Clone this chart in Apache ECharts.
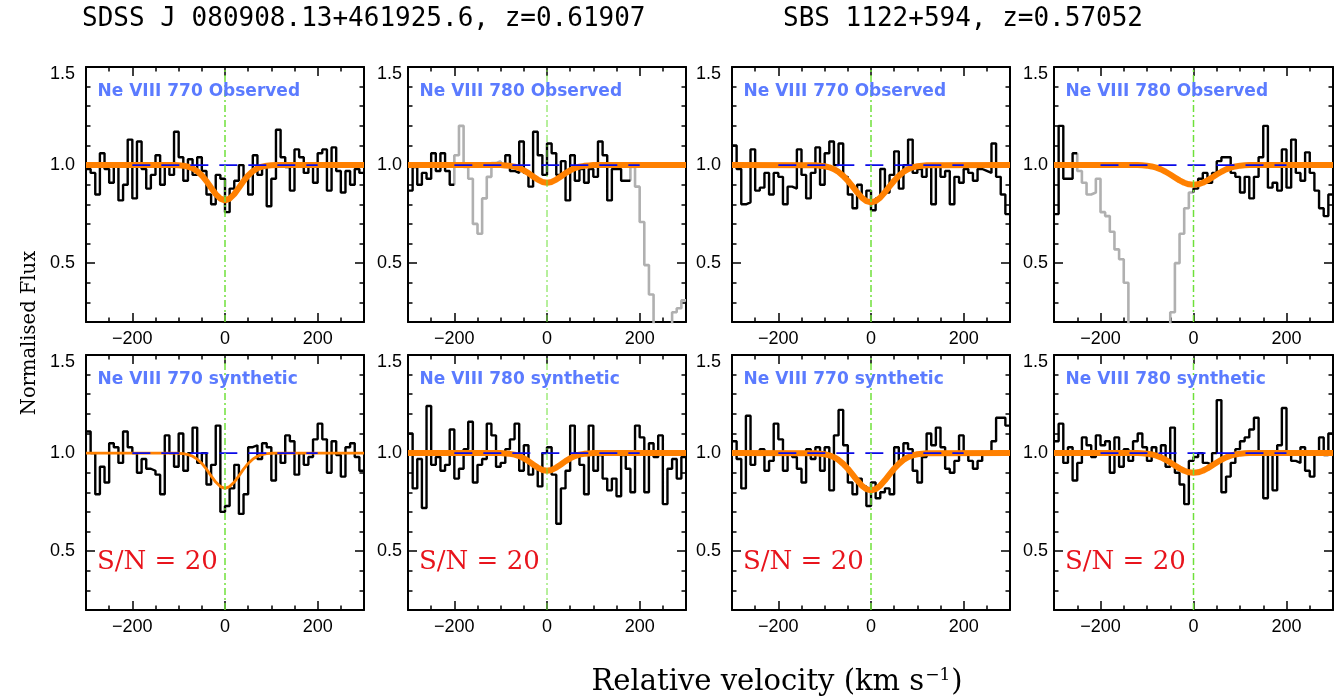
<!DOCTYPE html>
<html><head><meta charset="utf-8">
<script src="https://cdn.jsdelivr.net/npm/echarts@6/dist/echarts.min.js"></script>
<style>html,body{margin:0;padding:0;background:#fff}#c{width:1344px;height:697px}</style>
</head><body><div id="c"></div>
<script>
// ---------------- DATA ----------------
// velocity bins: left edge of first bin and bin width (km/s), 60 bins from -300 to 300
const binStart = -300, binWidth = 10;

// J0809 Ne VIII 770 observed
const fluxJ770obs = [0.98,0.96,0.85,1.06,0.98,0.91,1.00,0.82,0.90,1.13,
  0.83,1.12,0.98,0.88,0.95,1.05,0.90,1.00,0.95,1.17,
  1.04,0.92,1.03,0.95,1.04,0.97,0.85,0.80,0.95,0.93,
  0.76,0.88,0.92,1.00,0.93,0.85,1.05,0.95,0.99,0.79,
  0.93,1.18,1.04,0.99,0.87,1.08,1.04,0.96,1.00,0.91,
  1.06,1.08,0.87,1.09,0.97,0.86,0.97,0.90,0.98,0.96];
// J0809 Ne VIII 780 observed
const fluxJ780obs = [0.87,0.99,0.90,0.96,0.93,1.06,0.97,1.06,0.97,0.90,
  1.05,1.20,0.99,0.93,0.70,0.65,0.83,0.94,1.01,1.02,
  1.00,1.05,0.97,0.96,1.12,0.96,0.89,1.17,1.05,0.95,
  1.11,1.06,0.95,1.02,0.82,1.05,0.92,0.98,0.91,0.98,
  0.94,1.12,1.05,0.82,0.98,0.98,0.92,0.92,0.99,0.89,
  0.71,0.49,0.34,0.00,0.00,0.00,0.00,0.25,0.27,0.31];
// SBS1122 Ne VIII 770 observed
const fluxS770obs = [1.10,0.98,0.80,0.81,1.08,0.87,0.885,0.96,0.85,0.96,
  0.94,0.80,0.89,0.88,1.08,0.95,0.83,0.96,1.09,0.90,
  1.06,1.12,1.00,1.11,0.94,0.85,0.78,0.90,0.83,0.87,
  0.77,0.83,0.98,0.86,0.95,1.07,0.88,1.00,1.13,0.96,
  0.98,0.94,1.00,0.80,1.00,0.94,0.97,0.80,0.94,0.91,
  0.98,0.96,0.92,0.98,0.97,0.96,1.11,0.94,0.85,0.75];
// SBS1122 Ne VIII 780 observed
const fluxS780obs = [0.75,1.20,0.93,0.93,1.06,0.97,0.91,0.85,0.86,0.93,
  0.76,0.74,0.66,0.57,0.52,0.40,0.00,0.00,0.00,0.00,
  0.00,0.00,0.00,0.00,0.00,0.25,0.50,0.65,0.78,0.86,
  0.88,0.93,0.96,0.91,0.96,1.02,1.04,1.04,0.96,0.94,
  0.86,0.94,0.83,0.94,1.04,1.20,0.885,0.91,0.87,1.08,
  0.885,1.13,0.96,0.92,1.065,0.96,0.87,0.78,0.74,0.85];
// J0809 Ne VIII 770 synthetic
const fluxJ770syn = [1.11,1.00,0.79,0.93,0.85,1.05,1.03,0.95,1.11,1.03,
  1.00,0.90,0.97,0.92,0.91,0.89,0.79,1.09,1.00,0.93,
  1.10,0.91,1.00,1.13,0.95,1.00,0.84,0.94,1.14,0.70,
  0.73,0.82,0.94,0.69,0.79,1.03,1.04,0.97,1.05,1.03,
  0.86,1.00,0.95,1.09,1.06,0.89,1.00,0.94,0.98,1.07,
  1.15,1.07,0.90,1.06,0.99,0.88,1.03,1.05,0.98,0.91];
// J0809 Ne VIII 780 synthetic
const fluxJ780syn = [1.10,0.82,0.97,0.72,1.24,0.94,0.98,0.91,0.94,1.12,
  0.87,0.92,1.02,1.16,0.85,0.94,0.97,1.15,1.09,0.93,
  0.95,1.02,1.07,1.15,0.91,1.04,0.89,0.93,0.83,1.00,
  1.03,0.89,0.64,0.82,0.91,1.14,1.00,0.94,0.79,1.14,
  0.91,0.99,0.87,0.81,0.87,0.78,0.99,0.92,0.80,1.14,
  1.08,0.80,1.05,0.98,1.09,0.74,0.92,0.97,0.87,0.98];
// SBS1122 Ne VIII 770 synthetic
const fluxS770syn = [1.06,0.97,0.82,1.19,0.94,1.00,1.02,0.91,0.96,1.15,
  1.07,0.91,1.00,0.98,0.92,0.85,1.02,0.97,1.03,0.91,
  1.03,0.81,1.09,1.22,1.04,0.85,0.79,0.87,0.83,0.73,
  0.85,0.77,0.80,0.82,0.79,1.03,0.96,1.05,1.02,0.91,
  0.85,0.98,1.10,1.04,1.13,1.03,0.92,0.90,0.96,1.09,
  1.00,0.96,0.92,0.96,1.00,1.01,1.06,1.18,1.18,1.14];
// SBS1122 Ne VIII 780 synthetic
const fluxS780syn = [1.06,1.15,0.95,1.03,0.86,0.95,1.08,1.04,0.98,1.09,
  1.04,1.06,0.90,1.08,0.93,1.02,0.96,1.06,1.10,1.03,
  0.96,1.03,0.99,1.04,0.93,1.13,0.90,0.84,0.74,0.96,
  0.98,1.00,0.95,0.94,1.00,1.27,0.80,0.88,0.95,1.02,
  1.06,1.08,1.12,1.18,1.00,0.77,1.00,0.81,1.04,1.23,
  1.00,0.96,0.95,1.03,0.91,0.88,1.00,1.08,0.99,1.10];

// blended (grey) velocity ranges
const greyJ780 = [[-200,-90],[180,300]];
const greyS780 = [[-250,0]];

// fitted profiles (orange)
const modelV = [-300,-120,-110,-100,-90,-80,-70,-60,-50,-40,-30,-20,-10,0,10,20,30,40,50,60,70,80,90,100,110,120,300];
const modelJ770 = [1,1,1,0.999,0.997,0.992,0.984,0.969,0.947,0.918,0.884,0.852,0.829,0.82,0.829,0.852,0.884,0.918,0.947,0.969,0.984,0.992,0.997,0.999,1,1,1];
const modelJ780 = [1,1,1,1,0.998,0.996,0.992,0.985,0.973,0.959,0.942,0.926,0.914,0.91,0.914,0.926,0.942,0.959,0.973,0.985,0.992,0.996,0.998,1,1,1,1];
const modelS770 = [1,0.9987,0.997,0.994,0.9885,0.979,0.965,0.945,0.920,0.891,0.861,0.8345,0.8165,0.81,0.8165,0.8345,0.861,0.891,0.920,0.945,0.965,0.979,0.9885,0.994,0.997,0.9987,1];
const modelS780 = [1,1,0.999,0.997,0.993,0.987,0.978,0.966,0.952,0.937,0.922,0.91,0.902,0.90,0.902,0.91,0.922,0.937,0.952,0.966,0.978,0.987,0.993,0.997,0.999,1,1];

// continuum marker and line-centre marker
const contV = [-200, 200], contF = [1.0, 1.0];
const zeroV = [0, 0], zeroF = [0.2, 1.5];

// tick values
const xMajor = [-200, 0, 200];
const yMajor = [0.5, 1.0, 1.5];

const panelLabels = ['Ne VIII 770 Observed','Ne VIII 780 Observed','Ne VIII 770 Observed','Ne VIII 780 Observed',
  'Ne VIII 770 synthetic','Ne VIII 780 synthetic','Ne VIII 770 synthetic','Ne VIII 780 synthetic'];
const snText = 'S/N = 20';
const titleLeft = 'SDSS J 080908.13+461925.6, z=0.61907';
const titleRight = 'SBS 1122+594, z=0.57052';
const yTitle = 'Normalised Flux';

// ---------------- LAYOUT / STYLE ----------------
const colLeft = [86, 408, 732, 1054], colW = [278, 278, 278, 279];
const rowTop = [67, 355], rowH = 255;
const yLabMargin = [11, 6, 11, 6];
const SANS = '"Liberation Sans", Arial, sans-serif';
const SERIF = '"DejaVu Serif", serif';
const TICKFS = 18;

const panels = [
  {flux: fluxJ770obs, model: modelJ770, grey: [], mw: 6, zw: 1.5, sn: false},
  {flux: fluxJ780obs, model: modelJ780, grey: greyJ780, mw: 6, zw: 1, sn: false},
  {flux: fluxS770obs, model: modelS770, grey: [], mw: 6, zw: 1.5, sn: false},
  {flux: fluxS780obs, model: modelS780, grey: greyS780, mw: 6, zw: 1.5, sn: false},
  {flux: fluxJ770syn, model: modelJ770, grey: [], mw: 2.8, zw: 1.5, sn: true},
  {flux: fluxJ780syn, model: modelJ780, grey: [], mw: 6, zw: 1, sn: true},
  {flux: fluxS770syn, model: modelS770, grey: [], mw: 6, zw: 1.5, sn: true},
  {flux: fluxS780syn, model: modelS780, grey: [], mw: 6, zw: 1.5, sn: true}
];

function inGrey(ranges, lo, hi) {
  return ranges.some(r => lo >= r[0] - 1e-6 && hi <= r[1] + 1e-6);
}
// build step-line data (step:'end', points at bin left edges) split into black / grey
function buildSteps(flux, ranges) {
  const n = flux.length;
  const isGrey = flux.map((_, k) => inGrey(ranges, binStart + k * binWidth, binStart + (k + 1) * binWidth));
  const black = [], grey = [];
  let k = 0;
  while (k < n) {
    const g = isGrey[k];
    let e = k;
    while (e + 1 < n && isGrey[e + 1] === g) e++;
    const seg = [];
    if (k > 0) seg.push([binStart + k * binWidth, flux[k - 1]]);
    for (let j = k; j <= e; j++) seg.push([binStart + j * binWidth, flux[j]]);
    seg.push([binStart + (e + 1) * binWidth, flux[e]]);
    const target = g ? grey : black;
    if (target.length) target.push(null);
    seg.forEach(p => target.push(p));
    k = e + 1;
  }
  return {black, grey};
}

function fmtX(v) { return v < 0 ? '\u2212' + Math.abs(v) : String(v); }

function mkX(g, pos, main, major) {
  return {
    gridIndex: g, type: 'value', position: pos, min: -300, max: 300, interval: 50,
    axisLine: {show: main, onZero: false, lineStyle: {color: '#000', width: 2}},
    axisTick: major ? {show: true, inside: true, length: 9, customValues: xMajor, lineStyle: {color: '#000', width: 1.5}}
                    : {show: true, inside: true, length: 4.5, lineStyle: {color: '#000', width: 1.5}},
    axisLabel: (main && pos === 'bottom') ? {show: true, customValues: xMajor, formatter: fmtX, margin: 8,
      fontSize: TICKFS, color: '#000', fontFamily: SANS} : {show: false},
    splitLine: {show: false}
  };
}
function mkY(g, pos, main, major, col) {
  return {
    gridIndex: g, type: 'value', position: pos, min: 0.2, max: 1.5, interval: 0.1,
    axisLine: {show: main, onZero: false, lineStyle: {color: '#000', width: 2}},
    axisTick: major ? {show: true, inside: true, length: 9, customValues: yMajor, lineStyle: {color: '#000', width: 1.5}}
                    : {show: true, inside: true, length: 4.5, lineStyle: {color: '#000', width: 1.5}},
    axisLabel: (main && pos === 'left') ? {show: true, customValues: yMajor,
      formatter: v => (Math.abs(v - 1.5) < 1e-6 ? '{t|1.5}' : v.toFixed(1)),
      rich: {t: {fontSize: TICKFS, fontFamily: SANS, color: '#000', padding: [14, 0, 0, 0]}},
      margin: yLabMargin[col], fontSize: TICKFS, color: '#000', fontFamily: SANS} : {show: false},
    splitLine: {show: false}
  };
}

const grids = [], xAxes = [], yAxes = [], series = [], graphics = [];
panels.forEach((p, i) => {
  const col = i % 4, row = Math.floor(i / 4);
  grids.push({left: colLeft[col], top: rowTop[row], width: colW[col], height: rowH, containLabel: false});
  const xi = xAxes.length, yi = yAxes.length;
  xAxes.push(mkX(i, 'bottom', true, false), mkX(i, 'bottom', false, true), mkX(i, 'top', true, false), mkX(i, 'top', false, true));
  yAxes.push(mkY(i, 'left', true, false, col), mkY(i, 'left', false, true, col), mkY(i, 'right', true, false, col), mkY(i, 'right', false, true, col));
  const st = buildSteps(p.flux, p.grey);
  const base = {xAxisIndex: xi, yAxisIndex: yi, type: 'line', showSymbol: false, symbol: 'none', clip: true, silent: true, animation: false};
  if (st.grey.length) series.push(Object.assign({}, base, {step: 'end', data: st.grey, connectNulls: false, z: 2,
    lineStyle: {color: '#b0b0b0', width: 2.6}}));
  series.push(Object.assign({}, base, {step: 'end', data: st.black, connectNulls: false, z: 3,
    lineStyle: {color: '#000', width: 2.4}}));
  series.push(Object.assign({}, base, {data: modelV.map((v, k) => [v, p.model[k]]), z: 4,
    lineStyle: {color: '#ff8000', width: p.mw}}));
  series.push(Object.assign({}, base, {data: contV.map((v, k) => [v, contF[k]]), z: 5,
    lineStyle: {color: '#0a0ae8', width: 1.6, type: [18, 11]}}));
  series.push(Object.assign({}, base, {data: zeroV.map((v, k) => [v, zeroF[k]]), z: 6,
    lineStyle: {color: '#6fe03a', width: p.zw, type: [7, 3, 2, 3]}}));
  graphics.push({type: 'text', left: colLeft[col] + 11.5, top: rowTop[row] + 16, z: 10,
    style: {text: panelLabels[i], fill: '#5b7bff', font: 'bold 17px "DejaVu Sans", sans-serif'}});
  if (p.sn) graphics.push({type: 'text', left: colLeft[col] + 11, top: rowTop[row] + 194, z: 10,
    style: {text: snText, fill: '#e8141c', font: '26px ' + SERIF}});
});

graphics.push({type: 'text', left: 82, top: 6, style: {text: titleLeft, fill: '#000', font: '26px "DejaVu Sans Mono", monospace'}});
graphics.push({type: 'text', left: 783, top: 6, style: {text: titleRight, fill: '#000', font: '26px "DejaVu Sans Mono", monospace'}});
graphics.push({type: 'text', x: 30, y: 333, rotation: Math.PI / 2,
  style: {text: yTitle, fill: '#000', font: '19.5px ' + SERIF, align: 'center', verticalAlign: 'middle'}});
graphics.push({type: 'text', x: 777, y: 682,
  style: {text: '{a|Relative velocity (km s}{s|\u22121}{a|)}', align: 'center', verticalAlign: 'middle',
    rich: {a: {font: '29px ' + SERIF, fill: '#000', verticalAlign: 'bottom'},
           s: {font: '17px ' + SERIF, fill: '#000', verticalAlign: 'top', padding: [0, 1, 13, 1]}}}});

const chart = echarts.init(document.getElementById('c'));
chart.setOption({
  animation: false,
  backgroundColor: '#fff',
  grid: grids, xAxis: xAxes, yAxis: yAxes, series: series, graphic: graphics
});
</script></body></html>
